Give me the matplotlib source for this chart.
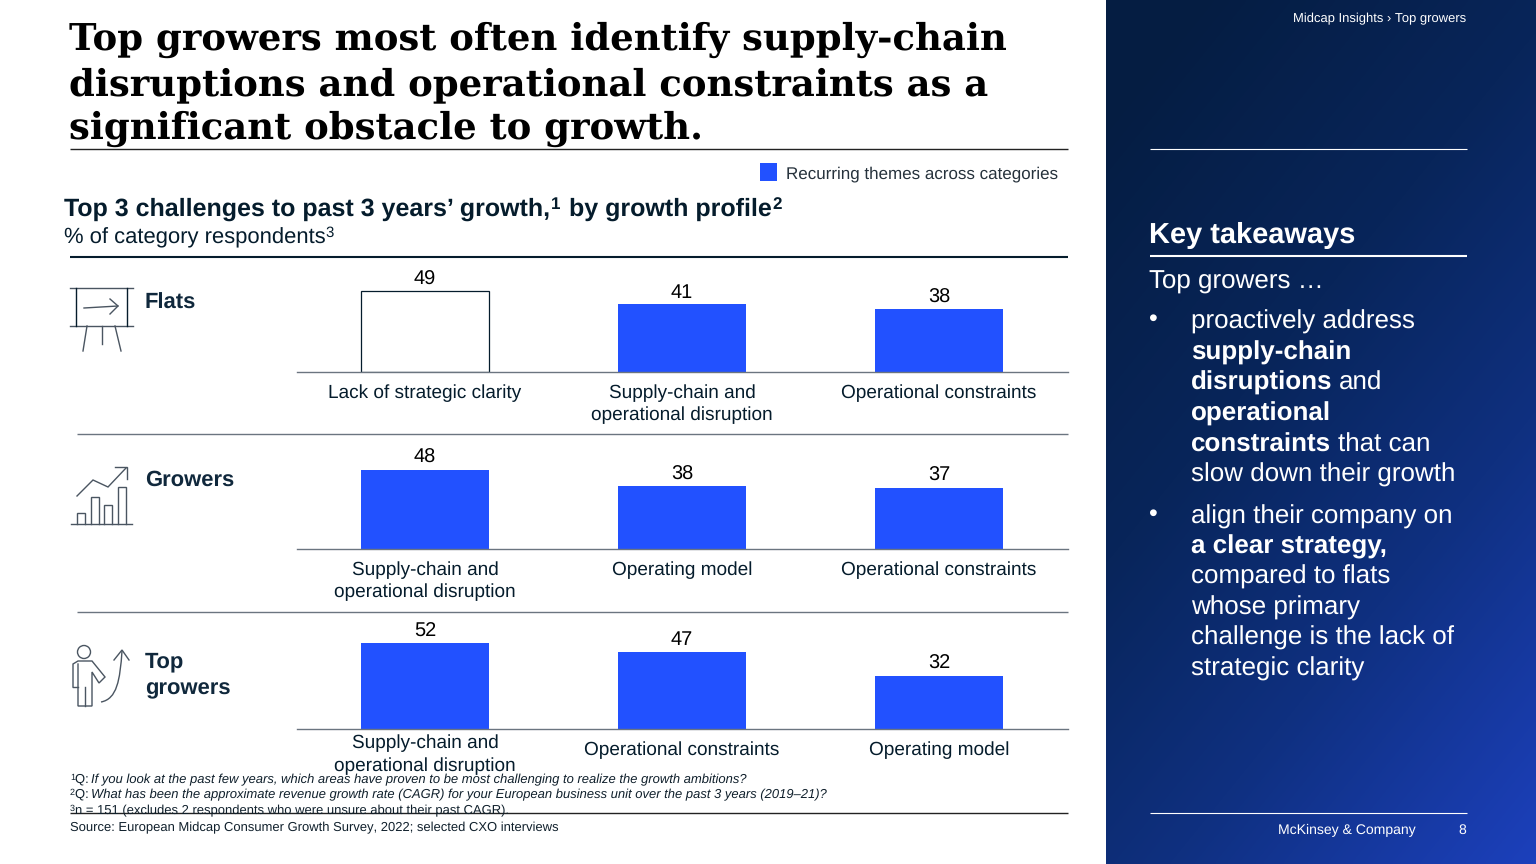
import numpy as np
import matplotlib
matplotlib.use("Agg")
import matplotlib.pyplot as plt
from matplotlib.patches import Circle, Rectangle, PathPatch
from matplotlib.path import Path
from matplotlib.colors import LinearSegmentedColormap

plt.rcParams["text.hinting"] = "no_hinting"
plt.rcParams["text.hinting_factor"] = 1

# ---- data ----
profiles = ["Flats", "Growers", "Top\ngrowers"]
flats_labels = ["Lack of strategic clarity", "Supply-chain and\noperational disruption", "Operational constraints"]
growers_labels = ["Supply-chain and\noperational disruption", "Operating model", "Operational constraints"]
top_labels = ["Supply-chain and\noperational disruption", "Operational constraints", "Operating model"]
flats_values = [49, 41, 38]
growers_values = [48, 38, 37]
top_values = [52, 47, 32]
flats_recurring = [False, True, True]
growers_recurring = [True, True, True]
top_recurring = [True, True, True]

title_lines = ["Top growers most often identify supply-chain",
               "disruptions and operational constraints as a",
               "significant obstacle to growth."]

INK = "#051c2c"
BLUE = "#2251ff"
GREY = "#6b7580"
SANS = "Liberation Sans"

W, H = 1536, 864
fig = plt.figure(figsize=(W / 100, H / 100), dpi=100, facecolor="white")
ov = fig.add_axes([0, 0, 1, 1], zorder=0)
ov.set_xlim(0, W); ov.set_ylim(H, 0); ov.axis("off")

# ---- right panel gradient ----
nx, ny = 120, 220
xx, yy = np.meshgrid(np.linspace(0, 1, nx), np.linspace(0, 1, ny))
t = np.clip(0.62 * yy + 0.38 * xx, 0, 1)
t = np.clip((t - 0.08) / 0.92, 0, 1)
cm = LinearSegmentedColormap.from_list(
    "p", [(0, "#051d42"), (0.35, "#08255a"), (0.65, "#0f3080"), (1, "#1c40bc")])
ov.imshow(t, extent=(1106, W, H, 0), cmap=cm, vmin=0, vmax=1, aspect="auto", zorder=0, interpolation="bilinear")
ov.set_xlim(0, W); ov.set_ylim(H, 0)
fig.canvas.draw()
rend = fig.canvas.get_renderer()


def hline(x0, x1, y, color=INK, lw=1.0):
    ov.plot([x0, x1], [y, y], color=color, lw=lw, solid_capstyle="butt", zorder=2)


def txt(x, y, s, size, color=INK, weight="normal", style="normal", ha="left", va="baseline", fam=SANS, **kw):
    return ov.text(x, y, s, fontsize=size, color=color, fontweight=weight, fontstyle=style,
                   ha=ha, va=va, family=fam, zorder=5, **kw)


def sup_line(x, y, parts, size, sup_size, rise, gap=0.0, **kw):
    """parts: list of (string, is_superscript)."""
    for s, is_sup in parts:
        if is_sup:
            x += gap
        if s.startswith(" "):
            x += size * 100 / 72 * 0.28
            s = s[1:]
        t_ = txt(x, y - rise if is_sup else y, s, sup_size if is_sup else size, **kw)
        x = t_.get_window_extent(rend).x1
        if is_sup:
            x += gap


# ---- title ----
for y, s in zip([50, 95, 139], title_lines):
    txt(69, y, s, 26.6, color="black", weight="bold", fam="DejaVu Serif")
hline(70, 1068, 149, color="#222222", lw=1.0)

# ---- legend ----
ov.add_patch(Rectangle((760, 163), 17, 18, fc=BLUE, ec="none", zorder=3))
txt(786, 178, "Recurring themes across categories", 12.05, color="#26323c")

# ---- heading ----
sup_line(64, 216, [("Top 3 challenges to past 3 years\u2019 growth,", False), ("1", True),
                   (" by growth profile", False), ("2", True)],
         18.3, 12.5, 7, gap=1.0, weight="bold")
sup_line(64, 243, [("% of category respondents", False), ("3", True)], 16.0, 10.5, 6)
hline(70, 1068, 256.5, lw=1.5)

# ---- charts ----
PX_PER_UNIT = 1.635
chart_specs = [
    (371.5, flats_values, flats_labels, flats_recurring, [9, 9, 9]),
    (548.5, growers_values, growers_labels, growers_recurring, [9, 9, 9]),
    (728.5, top_values, top_labels, top_recurring, [4.5, 9, 9]),
]
for base, vals, labs, rec, pads in chart_specs:
    h_units = 62
    ax_h = h_units * PX_PER_UNIT
    ax = fig.add_axes([297 / W, (H - base) / H, (1068 - 297) / W, ax_h / H], zorder=2)
    ax.patch.set_alpha(0)
    ax.set_xlim(-0.498, 2.502); ax.set_ylim(0, h_units)
    for s in ["top", "left", "right"]:
        ax.spines[s].set_visible(False)
    ax.spines["bottom"].set_color(GREY); ax.spines["bottom"].set_linewidth(1.0)
    ax.tick_params(axis="both", length=0)
    ax.set_yticks([])
    ax.set_xticks(range(3))
    ax.set_xticklabels(labs, fontsize=13.75, family=SANS, color=INK, linespacing=1.34)
    for tick, p in zip(ax.xaxis.get_major_ticks(), pads):
        tick.set_pad(p)
    for i, (v, r) in enumerate(zip(vals, rec)):
        ax.bar(i, v, width=0.5, color=BLUE if r else "white",
               edgecolor=BLUE if r else INK, linewidth=0 if r else 0.9)
        ax.annotate(str(v), (i, v), xytext=(0, 2), textcoords="offset points", ha="center", va="bottom",
                    fontsize=14.5, family=SANS, color="black")

# separators
hline(77, 1068, 434, color=GREY)
hline(77, 1068, 612, color=GREY)

# ---- row names ----
NAME = "#10283c"
txt(145, 309, profiles[0], 16.2, weight="bold", color=NAME)
txt(145, 486, profiles[1], 16.2, weight="bold", color=NAME)
pa, pb = profiles[2].split("\n")
txt(145, 667, pa, 16.2, weight="bold", color=NAME)
txt(145, 694, pb, 16.2, weight="bold", color=NAME)


# ---- icons ----
def seg(pts, lw=1.0, c="#4a5561"):
    a = np.array(pts, float)
    ov.plot(a[:, 0], a[:, 1], color=c, lw=lw, zorder=3, solid_joinstyle="miter")


# flats: flip chart
seg([(70, 288), (133, 288)]); seg([(70, 326), (133, 326)])
seg([(76, 288), (76, 326)], c=INK); seg([(127, 288), (127, 326)], c=INK)
seg([(84, 308), (118, 306)]); seg([(110, 299), (118, 306), (110, 314)])
seg([(87, 326), (83, 351)]); seg([(102, 326), (102, 344)]); seg([(115, 326), (121, 351)])
# growers: bars and rising line
seg([(71, 524), (132, 524)])
for x0, top_ in [(77, 513), (91, 497), (104, 505), (118, 487)]:
    seg([(x0, 524), (x0, top_), (x0 + 8, top_), (x0 + 8, 524)])
seg([(77, 496), (93, 480), (108, 487), (126, 468)])
seg([(115, 467), (127, 467), (127, 479)])
# top growers: person and arrow
ov.add_patch(Circle((84, 652), 6.5, fc="none", ec="#4a5561", lw=1.0, zorder=3))
seg([(73, 687), (73, 664), (78, 661), (92, 661), (105, 677), (99, 683), (92, 672), (92, 706), (78, 706), (78, 664)])
seg([(73, 687), (78, 687)])
seg([(84.5, 687), (84.5, 706)])
ov.add_patch(PathPatch(Path([(101, 702), (117, 699), (120, 680), (122, 651)],
                            [Path.MOVETO, Path.CURVE4, Path.CURVE4, Path.CURVE4]),
                       fc="none", ec="#4a5561", lw=1.0, zorder=3))
seg([(114, 660), (122, 650), (129, 660)])

# ---- footnotes ----
FN = "#10202c"
FS = 9.3
sup_line(70, 783, [("1", True), ("Q: ", False)], FS, 6.5, 3, color=FN)
txt(91, 783, "If you look at the past few years, which areas have proven to be most challenging to realize the growth ambitions?", FS, style="italic", color=FN)
sup_line(70, 798, [("2", True), ("Q: ", False)], FS, 6.5, 3, color=FN)
txt(91, 798, "What has been the approximate revenue growth rate (CAGR) for your European business unit over the past 3 years (2019\u201321)?", FS, style="italic", color=FN)
sup_line(70, 814, [("3", True), ("n = 151 (excludes 2 respondents who were unsure about their past CAGR).", False)], FS, 6.5, 3, color=FN)
hline(70, 1068, 813, color="#222222")
txt(70, 831, "Source: European Midcap Consumer Growth Survey, 2022; selected CXO interviews", FS, color=FN)

# ---- right panel text ----
txt(1466, 22, "Midcap Insights \u203a Top growers", 9.25, color="white", ha="right")
hline(1149.5, 1466.5, 149, color="white", lw=0.8)
txt(1149, 243, "Key takeaways", 20.6, color="white", weight="bold")
hline(1149.5, 1466.5, 256, color="white", lw=1.5)
txt(1149, 289, "Top growers \u2026", 18.4, color="white")
txt(1148, 326, "\u2022", 18, color="white")
txt(1148, 521, "\u2022", 18, color="white")

takeaways = [
    (329, [("proactively address", False)]),
    (360, [("supply-chain", True)]),
    (390, [("disruptions", True), (" and", False)]),
    (421, [("operational", True)]),
    (452, [("constraints", True), (" that can", False)]),
    (482, [("slow down their growth", False)]),
    (524, [("align their company on", False)]),
    (553, [("a clear strategy,", True)]),
    (584, [("compared to flats", False)]),
    (615, [("whose primary", False)]),
    (645, [("challenge is the lack of", False)]),
    (676, [("strategic clarity", False)]),
]
for y, parts in takeaways:
    x = 1191
    for s, bold in parts:
        if s.startswith(" "):
            x += 6.5
            s = s[1:]
        t_ = txt(x, y, s, 18.4, color="white", weight="bold" if bold else "normal")
        x = t_.get_window_extent(rend).x1

hline(1149.5, 1466.5, 812.5, color="white", lw=0.8)
txt(1278, 834, "McKinsey & Company", 10.4, color="white")
txt(1458, 834, "8", 10.4, color="white")

fig.savefig("out.png", dpi=100, facecolor="white")
